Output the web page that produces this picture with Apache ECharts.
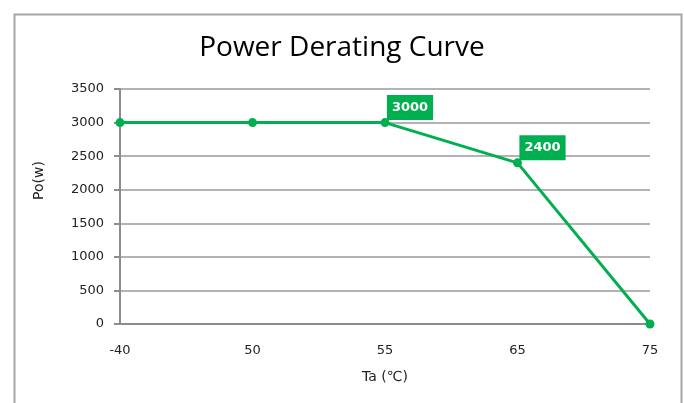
<!DOCTYPE html>
<html>
<head>
<meta charset="utf-8">
<script src="https://cdn.jsdelivr.net/npm/echarts@6/dist/echarts.min.js"></script>
<style>
  html, body { margin: 0; padding: 0; background: #fff; }
  #main { width: 684px; height: 403px; }
</style>
</head>
<body>
<div id="main"></div>
<script>
// 温度 (Ta) 与 输出功率 (Po)
var temps = ['-40', '50', '55', '65', '75'];
var power = [3000, 3000, 3000, 2400, 0];
var labelled = [2, 3]; // 显示数值标签的点
var yTicks = { min: 0, max: 3500, interval: 500 };

var green = '#00b050';
var font = 'DejaVu Sans';

function buildData() {
    return power.map(function (v, i) {
        if (labelled.indexOf(i) < 0) return v;
        return {
            value: v,
            label: {
                show: true,
                position: 'top',
                distance: -2,
                offset: [25, 0],
                color: '#fff',
                fontWeight: 'bold',
                fontSize: 13,
                fontFamily: font,
                backgroundColor: green,
                padding: [5, 5, 5, 5],
                lineHeight: 15
            }
        };
    });
}

var chart = echarts.init(document.getElementById('main'), null, { renderer: 'canvas' });
chart.setOption({
    backgroundColor: '#ffffff',
    animation: false,
    title: {
        text: 'Power Derating Curve',
        left: 'center',
        top: 29,
        textStyle: { fontFamily: 'Open Sans', fontWeight: 'normal', fontSize: 28, color: '#000' }
    },
    graphic: [{
        type: 'rect',
        left: 12, top: 12,
        shape: { width: 667, height: 400 },
        style: { fill: 'none', stroke: '#a6a6a6', lineWidth: 2 }
    }],
    grid: { left: 120, right: 34, top: 89, bottom: 79 },
    xAxis: {
        type: 'category',
        data: temps,
        boundaryGap: false,
        name: 'Ta (℃)',
        nameLocation: 'middle',
        nameGap: 46,
        nameTextStyle: { fontFamily: font, fontSize: 14, color: '#222' },
        axisLine: { lineStyle: { color: '#8c8c8c', width: 2 } },
        axisTick: { show: false },
        axisLabel: { fontFamily: font, fontSize: 13, color: '#222', margin: 20 },
        splitLine: { show: false }
    },
    yAxis: {
        type: 'value',
        min: yTicks.min,
        max: yTicks.max,
        interval: yTicks.interval,
        name: 'Po(w)',
        nameLocation: 'middle',
        nameGap: 74,
        nameTextStyle: { fontFamily: font, fontSize: 14, color: '#222', padding: [0, 0, 0, 52] },
        axisLine: { show: true, lineStyle: { color: '#8c8c8c', width: 2 } },
        axisTick: { show: true, length: 6, lineStyle: { color: '#8c8c8c', width: 2 } },
        axisLabel: { fontFamily: font, fontSize: 13, color: '#222', margin: 16, formatter: function (v) { return String(v); } },
        splitLine: { lineStyle: { color: '#9a9a9a', width: 1.5 } }
    },
    series: [{
        type: 'line',
        data: buildData(),
        symbol: 'circle',
        symbolSize: 9,
        lineStyle: { color: green, width: 3 },
        itemStyle: { color: green }
    }]
});
</script>
</body>
</html>
